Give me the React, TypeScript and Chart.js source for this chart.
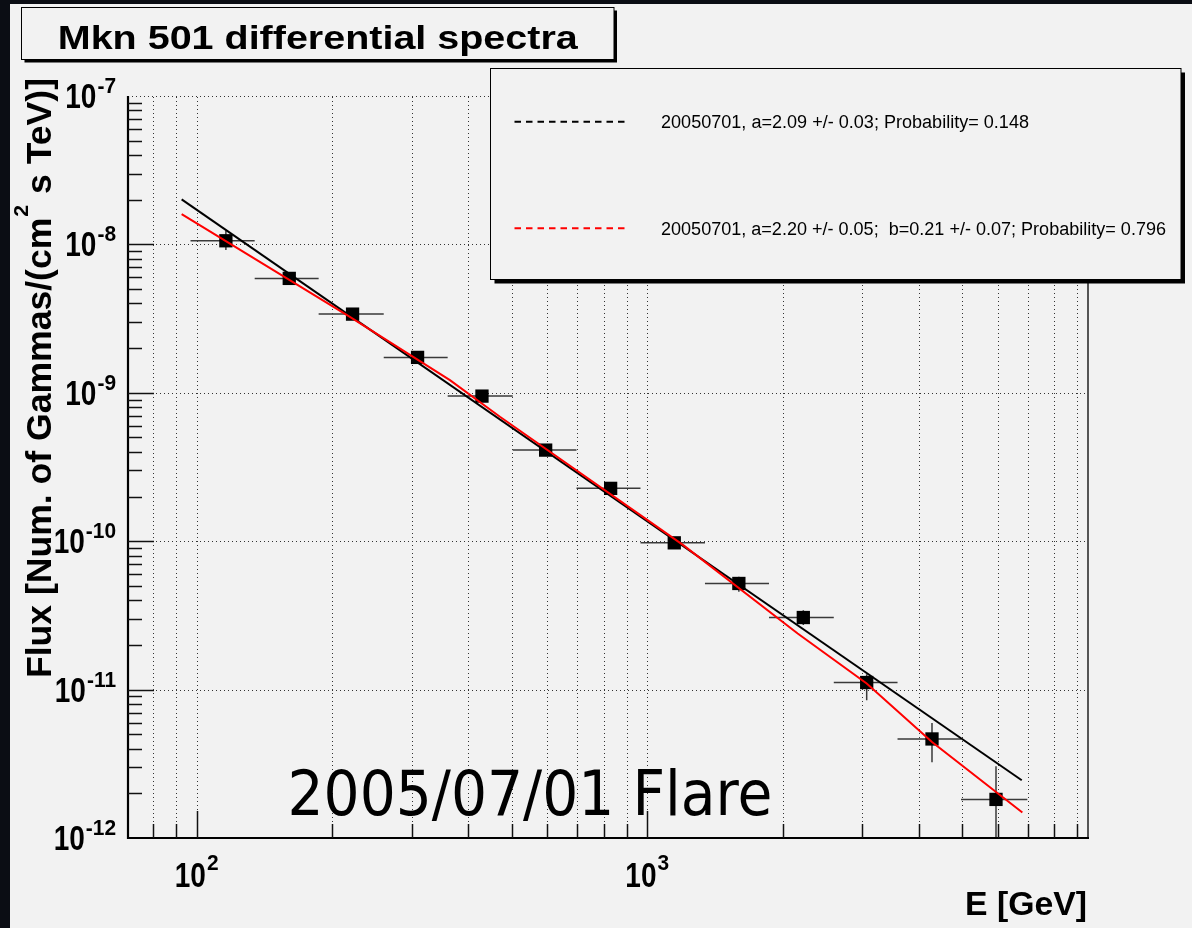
import React, { useEffect, useRef } from "react";
import { Chart, registerables } from "chart.js";

Chart.register(...registerables);

// ---- data ----
const energyGeV = [116.1, 160.5, 221.8, 309.2, 429.7, 595, 829.3, 1148, 1597, 2220, 3069, 4285, 5943];
const binEdgesGeV = [96.9, 134.5, 186.5, 260.1, 360.6, 502.8, 696.5, 966, 1343, 1863, 2594, 3593, 4970, 6975];
const flux = [1.058e-8, 5.9e-9, 3.39e-9, 1.732e-9, 9.5e-10, 4.11e-10, 2.27e-10, 9.75e-11, 5.19e-11, 3.06e-11, 1.116e-11, 4.65e-12, 1.82e-12];
const fluxLow = [9.16e-9, 5.5e-9, 3.15e-9, 1.62e-9, 8.9e-10, 3.85e-10, 2.1e-10, 9.0e-11, 4.56e-11, 2.72e-11, 8.48e-12, 3.24e-12, 5e-13];
const fluxHigh = [1.23e-8, 6.3e-9, 3.6e-9, 1.85e-9, 1.01e-9, 4.4e-10, 2.45e-10, 1.05e-10, 5.75e-11, 3.43e-11, 1.27e-11, 5.96e-12, 3.04e-12];

const powerLawE = [92.6, 6778];
const powerLawF = [2.01e-8, 2.45e-12];
const logParabolaE = [92.6, 218.8, 364.8, 471, 1202, 2157, 3069, 4285, 6800];
const logParabolaF = [1.6e-8, 3.253e-9, 1.218e-9, 6.89e-10, 9.41e-11, 2.39e-11, 1.1e-11, 4.44e-12, 1.484e-12];

const xTickExponents = [2, 3];
const yTickExponents = [-7, -8, -9, -10, -11, -12];
const xRange = [70.4, 9510];
const yRange = [1e-12, 1e-7];

const titleText = "Mkn 501 differential spectra";
const xAxisTitle = "E [GeV]";
const yAxisTitleParts = ["Flux [Num. of Gammas/(cm", "2", " s TeV)]"];
const annotationText = "2005/07/01 Flare";
const legendLabels = [
  "20050701, a=2.09 +/- 0.03; Probability= 0.148",
  "20050701, a=2.20 +/- 0.05;  b=0.21 +/- 0.07; Probability= 0.796",
];
const legendColors = ["#000000", "#ff0000"];

const FONT = "'Liberation Sans', Arial, sans-serif";

function fitText(
  ctx: CanvasRenderingContext2D,
  text: string,
  x: number,
  y: number,
  font: string,
  targetW: number,
  align: "left" | "center" | "right"
) {
  ctx.save();
  ctx.font = font;
  ctx.textAlign = "left";
  ctx.textBaseline = "alphabetic";
  const w = ctx.measureText(text).width;
  const sx = targetW / w;
  const x0 = align === "left" ? x : align === "center" ? x - targetW / 2 : x - targetW;
  ctx.translate(x0, y);
  ctx.scale(sx, 1);
  ctx.fillText(text, 0, 0);
  ctx.restore();
}

function powLabel(
  ctx: CanvasRenderingContext2D,
  exp: number,
  anchorX: number,
  baseY: number,
  supY: number,
  align: "center" | "right"
) {
  ctx.save();
  ctx.fillStyle = "#000";
  ctx.textAlign = "left";
  ctx.textBaseline = "alphabetic";
  const s10 = 0.8;
  const sExp = 0.95;
  const f10 = `bold 35px ${FONT}`;
  const fExp = `bold 22px ${FONT}`;
  ctx.font = f10;
  const w10 = ctx.measureText("10").width * s10;
  ctx.font = fExp;
  const expStr = String(exp);
  const wExp = ctx.measureText(expStr).width * sExp;
  const total = w10 + 1 + wExp;
  const x0 = align === "center" ? anchorX - total / 2 : anchorX - total;
  ctx.save();
  ctx.font = f10;
  ctx.translate(x0, baseY);
  ctx.scale(s10, 1);
  ctx.fillText("10", 0, 0);
  ctx.restore();
  ctx.save();
  ctx.font = fExp;
  ctx.translate(x0 + w10 + 1, supY);
  ctx.scale(sExp, 1);
  ctx.fillText(expStr, 0, 0);
  ctx.restore();
  ctx.restore();
}

const rootStyle = {
  id: "rootStyle",
  beforeDraw(chart: any) {
    const ctx: CanvasRenderingContext2D = chart.ctx;
    ctx.save();
    ctx.fillStyle = "#0b0d14";
    ctx.fillRect(0, 0, chart.width, chart.height);
    ctx.fillStyle = "#f2f2f2";
    ctx.fillRect(10, 4, chart.width - 10, chart.height - 4);
    ctx.restore();
  },
  beforeDatasetsDraw(chart: any) {
    const ctx: CanvasRenderingContext2D = chart.ctx;
    const { left, right, top, bottom } = chart.chartArea;
    const xs = chart.scales.x;
    const ys = chart.scales.y;
    ctx.save();
    // dotted grid
    ctx.strokeStyle = "#333";
    ctx.lineWidth = 1;
    ctx.setLineDash([1, 3]);
    for (let d = 1; d <= 3; d++) {
      for (let m = 1; m <= 9; m++) {
        const v = m * Math.pow(10, d);
        if (v <= xRange[0] || v >= xRange[1]) continue;
        const px = Math.round(xs.getPixelForValue(v)) + 0.5;
        ctx.beginPath();
        ctx.moveTo(px, bottom);
        ctx.lineTo(px, top);
        ctx.stroke();
      }
    }
    yTickExponents.forEach((e) => {
      const v = Math.pow(10, e);
      if (v <= yRange[0]) return;
      const py = Math.round(ys.getPixelForValue(v)) + 0.5;
      ctx.beginPath();
      ctx.moveTo(left, py);
      ctx.lineTo(right, py);
      ctx.stroke();
    });
    ctx.setLineDash([]);

    // error bars
    ctx.beginPath();
    ctx.rect(left, top, right - left, bottom - top);
    ctx.clip();
    ctx.strokeStyle = "#3a3a3a";
    ctx.lineWidth = 1.5;
    energyGeV.forEach((e, i) => {
      const px = xs.getPixelForValue(e);
      const py = ys.getPixelForValue(flux[i]);
      ctx.beginPath();
      ctx.moveTo(xs.getPixelForValue(binEdgesGeV[i]), py);
      ctx.lineTo(xs.getPixelForValue(binEdgesGeV[i + 1]), py);
      ctx.moveTo(px, ys.getPixelForValue(fluxLow[i]));
      ctx.lineTo(px, ys.getPixelForValue(fluxHigh[i]));
      ctx.stroke();
    });
    ctx.restore();
  },
  afterDatasetsDraw(chart: any) {
    const ctx: CanvasRenderingContext2D = chart.ctx;
    const { left, right, top, bottom } = chart.chartArea;
    const xs = chart.scales.x;
    const ys = chart.scales.y;
    ctx.save();
    // frame
    ctx.strokeStyle = "#555";
    ctx.lineWidth = 2;
    ctx.beginPath();
    ctx.moveTo(right, top);
    ctx.lineTo(right, bottom);
    ctx.stroke();
    ctx.strokeStyle = "#000";
    ctx.lineWidth = 2.2;
    ctx.beginPath();
    ctx.moveTo(left, top);
    ctx.lineTo(left, bottom);
    ctx.lineTo(right + 1, bottom);
    ctx.stroke();
    // ticks
    ctx.lineWidth = 1.5;
    ctx.strokeStyle = "#111";
    for (let d = 1; d <= 3; d++) {
      for (let m = 1; m <= 9; m++) {
        const v = m * Math.pow(10, d);
        if (v <= xRange[0] || v >= xRange[1]) continue;
        const px = Math.round(xs.getPixelForValue(v)) + 0.5;
        const len = m === 1 ? 27 : 14;
        ctx.beginPath();
        ctx.moveTo(px, bottom);
        ctx.lineTo(px, bottom - len);
        ctx.stroke();
      }
    }
    for (let d = -12; d <= -8; d++) {
      for (let m = 1; m <= 9; m++) {
        const v = m * Math.pow(10, d);
        if (v <= yRange[0] * 1.0001 || v > yRange[1] * 1.0001) continue;
        const py = Math.round(ys.getPixelForValue(v)) + 0.5;
        const len = m === 1 ? 26 : 14;
        ctx.beginPath();
        ctx.moveTo(left, py);
        ctx.lineTo(left + len, py);
        ctx.stroke();
      }
    }
    ctx.restore();
  },
  afterDraw(chart: any) {
    const ctx: CanvasRenderingContext2D = chart.ctx;
    const { left, right, bottom } = chart.chartArea;
    const xs = chart.scales.x;
    const ys = chart.scales.y;
    ctx.save();
    ctx.fillStyle = "#000";

    // tick labels
    xTickExponents.forEach((e) => {
      const px = xs.getPixelForValue(Math.pow(10, e));
      powLabel(ctx, e, px, bottom + 49, bottom + 32, "center");
    });
    yTickExponents.forEach((e) => {
      const py = ys.getPixelForValue(Math.pow(10, e));
      powLabel(ctx, e, left - 12, py + 12, py - 3, "right");
    });

    // x title
    fitText(ctx, xAxisTitle, right - 1, bottom + 77, `bold 34px ${FONT}`, 122, "right");

    // y title (rotated)
    ctx.save();
    ctx.translate(51, 678);
    ctx.rotate(-Math.PI / 2);
    ctx.font = `bold 35px ${FONT}`;
    const w1 = ctx.measureText(yAxisTitleParts[0]).width;
    const w3 = ctx.measureText(yAxisTitleParts[2]).width;
    ctx.font = `bold 21px ${FONT}`;
    const w2 = ctx.measureText(yAxisTitleParts[1]).width + 2;
    const sy = 600 / (w1 + w2 + w3);
    ctx.scale(sy, 1);
    ctx.font = `bold 35px ${FONT}`;
    ctx.fillText(yAxisTitleParts[0], 0, 0);
    ctx.font = `bold 21px ${FONT}`;
    ctx.fillText(yAxisTitleParts[1], w1 + 1, -23);
    ctx.font = `bold 35px ${FONT}`;
    ctx.fillText(yAxisTitleParts[2], w1 + w2, 0);
    ctx.restore();

    // annotation
    fitText(ctx, annotationText, 287.5, 815, `62px 'DejaVu Sans', sans-serif`, 485, "left");

    // title box
    const tb = { x: 21.5, y: 7.5, w: 592.5, h: 52 };
    ctx.fillStyle = "#000";
    ctx.fillRect(tb.x + 3, tb.y + 3, tb.w, tb.h);
    ctx.fillStyle = "#f2f2f2";
    ctx.fillRect(tb.x, tb.y, tb.w, tb.h);
    ctx.strokeStyle = "#000";
    ctx.lineWidth = 1;
    ctx.strokeRect(tb.x, tb.y, tb.w, tb.h);
    ctx.fillStyle = "#000";
    fitText(ctx, titleText, tb.x + tb.w / 2, 48.5, `bold 34px ${FONT}`, 520, "center");

    // legend box
    const lb = { x: 490.5, y: 68.5, w: 690.5, h: 211 };
    ctx.fillStyle = "#000";
    ctx.fillRect(lb.x + 4, lb.y + 4, lb.w, lb.h);
    ctx.fillStyle = "#f2f2f2";
    ctx.fillRect(lb.x, lb.y, lb.w, lb.h);
    ctx.strokeStyle = "#000";
    ctx.lineWidth = 1;
    ctx.strokeRect(lb.x, lb.y, lb.w, lb.h);
    const rowY = [121.7, 228.3];
    const rowW = [368, 505];
    legendLabels.forEach((label, i) => {
      ctx.save();
      ctx.strokeStyle = legendColors[i];
      ctx.lineWidth = 2;
      ctx.setLineDash([6.5, 5]);
      ctx.beginPath();
      ctx.moveTo(514.5, rowY[i]);
      ctx.lineTo(627, rowY[i]);
      ctx.stroke();
      ctx.restore();
      ctx.fillStyle = "#000";
      fitText(ctx, label, 661, rowY[i] + 6.5, `18px ${FONT}`, rowW[i], "left");
    });
    ctx.restore();
  },
};

export default function App() {
  const canvasRef = useRef<HTMLCanvasElement | null>(null);

  useEffect(() => {
    const canvas = canvasRef.current;
    if (!canvas) return;
    const chart = new Chart(canvas, {
      type: "scatter",
      data: {
        datasets: [
          {
            type: "line",
            label: "log-parabola",
            data: logParabolaE.map((e, i) => ({ x: e, y: logParabolaF[i] })),
            borderColor: "#ff0000",
            borderWidth: 2,
            pointRadius: 0,
            tension: 0,
            fill: false,
          },
          {
            type: "line",
            label: "power law",
            data: powerLawE.map((e, i) => ({ x: e, y: powerLawF[i] })),
            borderColor: "#000000",
            borderWidth: 2,
            pointRadius: 0,
            tension: 0,
            fill: false,
          },
          {
            type: "scatter",
            label: "data",
            data: energyGeV.map((e, i) => ({ x: e, y: flux[i] })),
            pointStyle: "rect",
            pointRadius: 9.4,
            backgroundColor: "#000000",
            borderColor: "#000000",
            borderWidth: 0,
          },
        ] as any,
      },
      options: {
        animation: false,
        responsive: false,
        maintainAspectRatio: false,
        devicePixelRatio: 1,
        events: [],
        layout: { padding: { left: 128, top: 96, right: 104, bottom: 90 } },
        plugins: { legend: { display: false }, tooltip: { enabled: false }, title: { display: false } },
        scales: {
          x: { type: "logarithmic", min: xRange[0], max: xRange[1], display: false },
          y: { type: "logarithmic", min: yRange[0], max: yRange[1], display: false },
        },
      } as any,
      plugins: [rootStyle as any],
    });
    return () => chart.destroy();
  }, []);

  return (
    <div style={{ position: "fixed", left: 0, top: 0, width: 1192, height: 928, background: "#0b0d14" }}>
      <canvas ref={canvasRef} width={1192} height={928} style={{ width: 1192, height: 928, display: "block" }} />
    </div>
  );
}
